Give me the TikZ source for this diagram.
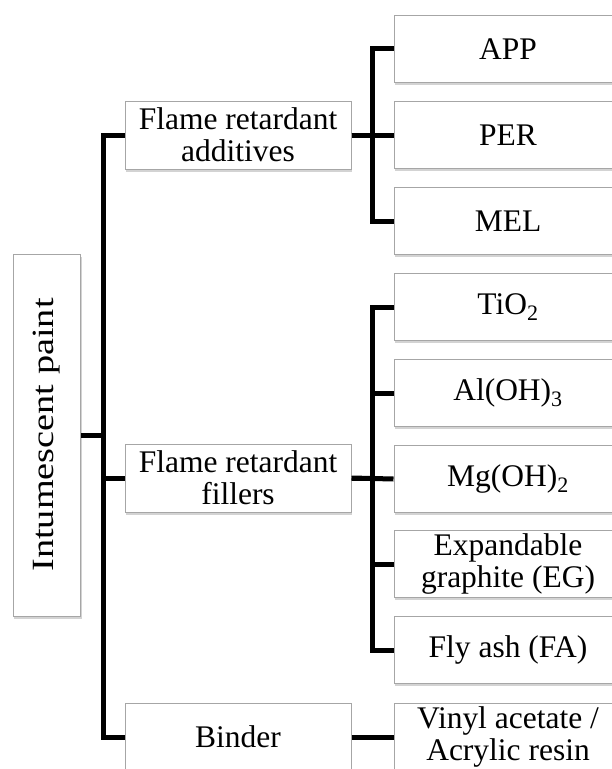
\documentclass[tikz,border=0pt]{standalone}
\usepackage{fontspec}
\setmainfont{Liberation Serif}
\newfontfamily\rootfont{Liberation Serif}[FakeStretch=1.24]
\usetikzlibrary{shadows}

\begin{document}
\begin{tikzpicture}[x=1bp,y=-1bp]
		\tikzset{box/.style = {shape=rectangle,draw=gray!70,line width=1bp,fill=white,align=center,inner sep=0pt,font=\fontsize{31.6}{32.3}\selectfont,drop shadow={shadow xshift=1bp,shadow yshift=-2.5bp,opacity=0.35}}}
		\tikzset{group/.style = {box,minimum width=226bp,minimum height=68bp}}
		\tikzset{leaf/.style = {box,minimum width=228bp,minimum height=67bp}}
		\tikzset{edge/.style = {line width=5bp,line join=miter}}
		\useasboundingbox (0,0) rectangle (612,769);
		\clip (0,0) rectangle (612,769);
		% root
		\node[box,font=\rootfont\fontsize{31}{34}\selectfont,minimum width=362bp,minimum height=67bp,rotate=90] (root) at (47,435) {Intumescent paint};
		% groups
		\node[group] (add) at (238,135) {Flame retardant\\additives};
		\node[group] (fil) at (238,478) {Flame retardant\\fillers};
		\node[group] (bind) at (238,737) {Binder};
		% leaves
		\node[leaf] (app) at (508,49) {APP};
		\node[leaf] (per) at (508,135) {PER};
		\node[leaf] (mel) at (508,221) {MEL};
		\node[leaf] (tio) at (508,307) {TiO\textsubscript{2}};
		\node[leaf] (al) at (508,393) {Al(OH)\textsubscript{3}};
		\node[leaf] (mg) at (508,479) {Mg(OH)\textsubscript{2}};
		\node[leaf] (eg) at (508,564) {Expandable\\graphite (EG)};
		\node[leaf] (fa) at (508,650) {Fly ash (FA)};
		\node[leaf] (vin) at (508,737) {Vinyl acetate /\\Acrylic resin};
		% edges
		\draw[edge] (root.south) -- ++(22.4,0) |- (add.west);
		\draw[edge] (root.south) -- ++(22.4,0) |- (fil.west);
		\draw[edge] (root.south) -- ++(22.4,0) |- (bind.west);
		\draw[edge] (add.east) -- ++(21,0) |- (app.west);
		\draw[edge] (add.east) -- (per.west);
		\draw[edge] (add.east) -- ++(21,0) |- (mel.west);
		\draw[edge] (fil.east) -- ++(21,0) |- (tio.west);
		\draw[edge] (fil.east) -- ++(21,0) |- (al.west);
		\draw[edge] (fil.east) -- (mg.west);
		\draw[edge] (fil.east) -- ++(21,0) |- (eg.west);
		\draw[edge] (fil.east) -- ++(21,0) |- (fa.west);
		\draw[edge] (bind.east) -- (vin.west);
\end{tikzpicture}
\end{document}
